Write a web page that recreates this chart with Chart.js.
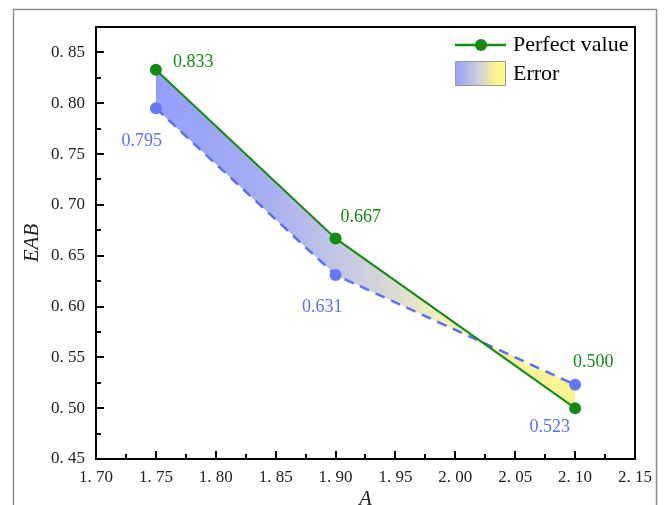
<!DOCTYPE html>
<html>
<head>
<meta charset="utf-8">
<script src="https://cdn.jsdelivr.net/npm/chart.js@4.4.1/dist/chart.umd.min.js"></script>
<style>
    html, body { margin: 0; padding: 0; background: #fff; overflow: hidden; }
    #wrap { width: 665px; height: 525px; }
</style>
</head>
<body>
<div id="wrap"><canvas id="lineChart"></canvas></div>
<script>
// 데이터
const aValues = [1.75, 1.90, 2.10];
const perfectValues = [0.833, 0.667, 0.500];
const errorValues = [0.795, 0.631, 0.523];
const perfectLabels = ['0.833', '0.667', '0.500'];
const errorLabels = ['0.795', '0.631', '0.523'];
const legendLabels = ['Perfect value', 'Error'];

const GREEN = '#138a13';
const BLUE_LINE = '#5a70f2';
const BLUE_POINT = '#6678fa';
const BLUE_TEXT = '#5b6ff2';
const SERIF = '"Liberation Serif", "DejaVu Serif", serif';

// 라벨 위치 (점 기준 오프셋)
const perfectLabelOffset = [[17, -7], [5, -21], [-2, -23]];
const errorLabelOffset = [[6, 33], [7, 32], [-5, 19]];

function fmtTick(v) {
    return v.toFixed(2).replace('.', '. ');
}

function errorGradient(ctx, chart) {
    const xs = chart.scales.x;
    const x0 = xs.getPixelForValue(aValues[0]);
    const x1 = xs.getPixelForValue(aValues[aValues.length - 1]);
    const g = ctx.createLinearGradient(x0, 0, x1, 0);
    g.addColorStop(0, '#949ffb');
    g.addColorStop(0.25, '#a5aef2');
    g.addColorStop(0.5, '#cdcfdd');
    g.addColorStop(0.68, '#f1f0bc');
    g.addColorStop(1, '#fbf68e');
    return g;
}

// 축 테두리 + 안쪽 눈금
const axisBoxPlugin = {
    id: 'axisBox',
    afterDraw(chart) {
        const ctx = chart.ctx;
        const a = chart.chartArea;
        const xs = chart.scales.x;
        const ys = chart.scales.y;
        ctx.save();
        ctx.strokeStyle = '#000';
        ctx.lineWidth = 2;
        for (let v = 1.70; v <= 2.15 + 1e-9; v += 0.025) {
            const major = Math.abs(Math.round(v / 0.05) * 0.05 - v) < 1e-6;
            const px = Math.round(xs.getPixelForValue(v));
            ctx.beginPath();
            ctx.moveTo(px, a.bottom);
            ctx.lineTo(px, a.bottom - (major ? 8 : 5));
            ctx.stroke();
        }
        for (let v = 0.45; v <= 0.875 + 1e-9; v += 0.025) {
            const major = Math.abs(Math.round(v / 0.05) * 0.05 - v) < 1e-6;
            const py = Math.round(ys.getPixelForValue(v));
            ctx.beginPath();
            ctx.moveTo(a.left, py);
            ctx.lineTo(a.left + (major ? 8 : 5), py);
            ctx.stroke();
        }
        ctx.lineWidth = 2;
        ctx.strokeRect(a.left, a.top, a.right - a.left, a.bottom - a.top);
        ctx.restore();
    }
};

// 바깥 회색 프레임
const framePlugin = {
    id: 'frame',
    beforeDraw(chart) {
        const ctx = chart.ctx;
        ctx.save();
        ctx.fillStyle = '#fff';
        ctx.fillRect(0, 0, chart.width, chart.height);
        ctx.strokeStyle = '#8e8e8e';
        ctx.lineWidth = 1.5;
        ctx.strokeRect(13.5, 9.5, 643, 530);
        ctx.restore();
    }
};

// 데이터 라벨
const valueLabelPlugin = {
    id: 'valueLabels',
    afterDatasetsDraw(chart) {
        const ctx = chart.ctx;
        const xs = chart.scales.x;
        const ys = chart.scales.y;
        ctx.save();
        ctx.font = '18px ' + SERIF;
        ctx.textBaseline = 'middle';
        aValues.forEach(function (a, i) {
            const px = xs.getPixelForValue(a);
            const pg = ys.getPixelForValue(perfectValues[i]);
            const pb = ys.getPixelForValue(errorValues[i]);
            const upper = Math.min(pg, pb);
            const lower = Math.max(pg, pb);
            ctx.fillStyle = GREEN;
            ctx.textAlign = 'left';
            ctx.fillText(perfectLabels[i], px + perfectLabelOffset[i][0], upper + perfectLabelOffset[i][1]);
            ctx.fillStyle = BLUE_TEXT;
            ctx.textAlign = 'right';
            ctx.fillText(errorLabels[i], px + errorLabelOffset[i][0], lower + errorLabelOffset[i][1]);
        });
        ctx.restore();
    }
};

// 범례
const legendPlugin = {
    id: 'customLegend',
    afterDraw(chart) {
        const ctx = chart.ctx;
        const a = chart.chartArea;
        const x0 = a.right - 180;
        const y0 = a.top + 18;
        ctx.save();
        ctx.strokeStyle = GREEN;
        ctx.lineWidth = 2.5;
        ctx.beginPath();
        ctx.moveTo(x0, y0);
        ctx.lineTo(x0 + 51, y0);
        ctx.stroke();
        ctx.fillStyle = GREEN;
        ctx.beginPath();
        ctx.arc(x0 + 26, y0, 6, 0, Math.PI * 2);
        ctx.fill();

        const g = ctx.createLinearGradient(x0, 0, x0 + 50, 0);
        g.addColorStop(0, '#949ffb');
        g.addColorStop(0.5, '#d2d2d6');
        g.addColorStop(0.8, '#f8f490');
        g.addColorStop(1, '#fbf684');
        ctx.fillStyle = g;
        ctx.fillRect(x0, y0 + 16, 50, 24);
        ctx.strokeStyle = '#9a9a9a';
        ctx.lineWidth = 1;
        ctx.strokeRect(x0 + 0.5, y0 + 16.5, 50, 24);

        ctx.fillStyle = '#000';
        ctx.font = '22px ' + SERIF;
        ctx.textAlign = 'left';
        ctx.textBaseline = 'middle';
        ctx.fillText(legendLabels[0], x0 + 58, y0);
        ctx.fillText(legendLabels[1], x0 + 58, y0 + 29);
        ctx.restore();
    }
};

const ctx = document.getElementById('lineChart');

new Chart(ctx, {
    type: 'line',
    plugins: [framePlugin, valueLabelPlugin, axisBoxPlugin, legendPlugin],
    data: {
        datasets: [
            {
                label: legendLabels[0],
                data: aValues.map((a, i) => ({ x: a, y: perfectValues[i] })),
                borderColor: GREEN,
                borderWidth: 2,
                pointRadius: 6,
                pointBackgroundColor: GREEN,
                pointBorderWidth: 0,
                fill: false,
                tension: 0,
            },
            {
                label: legendLabels[1],
                data: aValues.map((a, i) => ({ x: a, y: errorValues[i] })),
                borderColor: BLUE_LINE,
                borderWidth: 2.5,
                borderDash: [10, 7],
                pointRadius: 6,
                pointBackgroundColor: BLUE_POINT,
                pointBorderWidth: 0,
                backgroundColor: function (context) {
                    const chart = context.chart;
                    if (!chart.chartArea) return '#c0c4f0';
                    return errorGradient(chart.ctx, chart);
                },
                fill: { target: 0 },
                tension: 0,
            },
        ]
    },
    options: {
        responsive: true,
        maintainAspectRatio: false,
        animation: false,
        layout: {
            padding: { left: 0, right: 30, top: 27, bottom: 0 }
        },
        plugins: {
            legend: { display: false },
            tooltip: { enabled: false }
        },
        scales: {
            x: {
                type: 'linear',
                min: 1.70,
                max: 2.15,
                afterFit: function (s) { s.height = 66; },
                grid: { display: false, drawTicks: false },
                border: { display: false },
                ticks: {
                    stepSize: 0.05,
                    padding: 8,
                    color: '#222',
                    font: { family: SERIF, size: 17 },
                    callback: function (v) { return fmtTick(v); }
                },
                title: {
                    display: true,
                    text: 'A',
                    color: '#222',
                    font: { family: SERIF, size: 21, style: 'italic' },
                    padding: { top: 0, bottom: 13 }
                }
            },
            y: {
                type: 'linear',
                min: 0.45,
                max: 0.875,
                afterFit: function (s) { s.width = 96; },
                afterBuildTicks: function (s) {
                    s.ticks = s.ticks.filter(t => Math.abs(Math.round(t.value / 0.05) * 0.05 - t.value) < 1e-6);
                },
                grid: { display: false, drawTicks: false },
                border: { display: false },
                ticks: {
                    stepSize: 0.05,
                    padding: 11,
                    color: '#222',
                    font: { family: SERIF, size: 17 },
                    callback: function (v) { return fmtTick(v); }
                },
                title: {
                    display: true,
                    text: 'EAB',
                    color: '#222',
                    font: { family: SERIF, size: 21, style: 'italic' },
                    padding: { top: 20, bottom: 0 }
                }
            }
        }
    }
});
</script>
</body>
</html>
